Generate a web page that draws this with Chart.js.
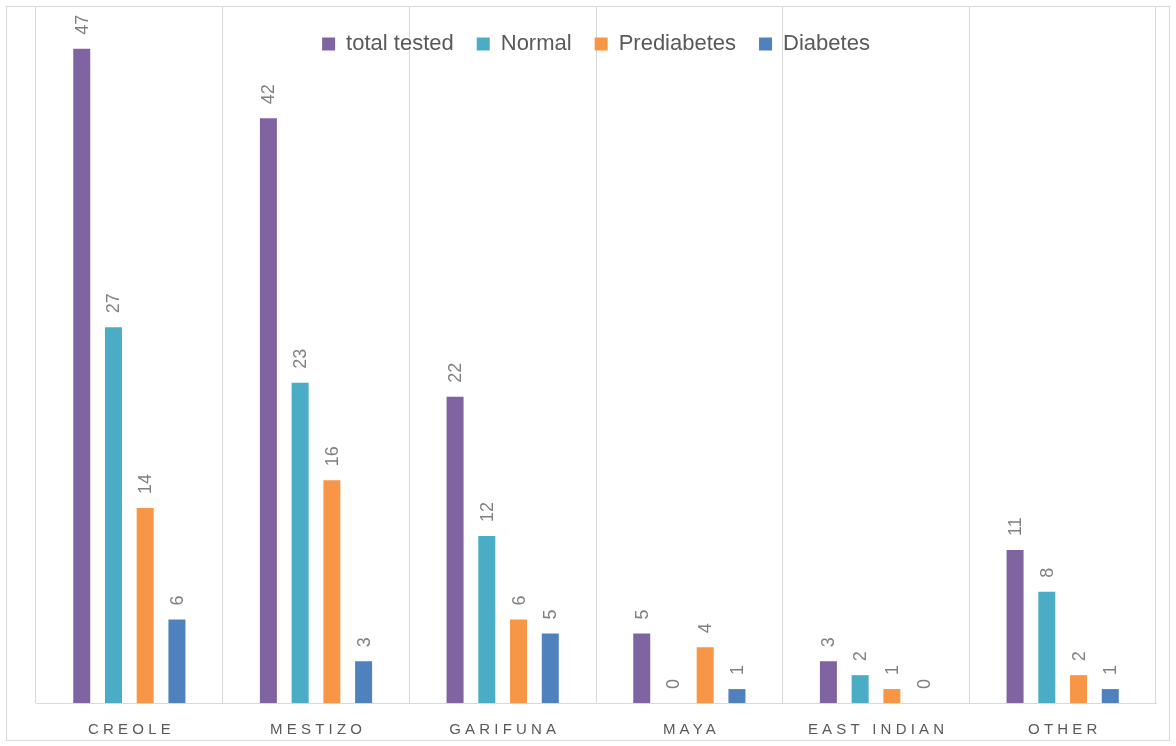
<!DOCTYPE html>
<html>
<head>
<meta charset="utf-8">
<script src="https://cdn.jsdelivr.net/npm/chart.js@4.4.1/dist/chart.umd.min.js"></script>
<style>
  html, body { margin: 0; padding: 0; background: #fff; }
  #wrap { width: 1176px; height: 746px; }
</style>
</head>
<body>
<div id="wrap"><canvas id="chart" width="1176" height="746"></canvas></div>
<script>
const categories = ['CREOLE', 'MESTIZO', 'GARIFUNA', 'MAYA', 'EAST INDIAN', 'OTHER'];
const totalTested = [47, 42, 22, 5, 3, 11];
const normal = [27, 23, 12, 0, 2, 8];
const prediabetes = [14, 16, 6, 4, 1, 2];
const diabetes = [6, 3, 5, 1, 0, 1];

const FONT = '"Liberation Sans", Arial, sans-serif';

// outer frame round the whole chart
const framePlugin = {
    id: 'frame',
    beforeDraw(chart) {
        const ctx = chart.ctx;
        ctx.save();
        ctx.fillStyle = '#ffffff';
        ctx.fillRect(0, 0, chart.width, chart.height);
        ctx.strokeStyle = '#d9d9d9';
        ctx.lineWidth = 1;
        ctx.strokeRect(6.5, 6.5, 1163, 734);
        ctx.restore();
    }
};

// legend sits on top of the plot, so it must not take layout room
const legendOverlay = {
    id: 'legendOverlay',
    beforeLayout(chart) {
        const lg = chart.legend;
        if (lg && !lg._overlay) {
            const fit = lg.fit.bind(lg);
            lg.fit = function () {
                fit();
                this._realHeight = this.height;
                this.height = 0;
            };
            lg._overlay = true;
        }
    },
    afterLayout(chart) {
        const lg = chart.legend;
        if (lg) {
            lg.top = 10;
            lg.bottom = lg.top + (lg._realHeight || 0);
        }
    }
};

// values above bars, turned to read bottom-to-top
const valueLabels = {
    id: 'valueLabels',
    afterDatasetsDraw(chart) {
        const ctx = chart.ctx;
        ctx.save();
        ctx.font = '18px ' + FONT;
        ctx.fillStyle = '#808080';
        ctx.textAlign = 'left';
        ctx.textBaseline = 'middle';
        chart.data.datasets.forEach((ds, i) => {
            const meta = chart.getDatasetMeta(i);
            meta.data.forEach((bar, j) => {
                ctx.save();
                ctx.translate(bar.x + 1, bar.y - 14);
                ctx.rotate(-Math.PI / 2);
                ctx.fillText(String(ds.data[j]), 0, 0);
                ctx.restore();
            });
        });
        ctx.restore();
    }
};

// spaced-out category names under the axis
const categoryLabels = {
    id: 'categoryLabels',
    afterDraw(chart) {
        const ctx = chart.ctx;
        const xScale = chart.scales.x;
        const sp = 4.2;
        ctx.save();
        ctx.font = '15px ' + FONT;
        ctx.fillStyle = '#595959';
        ctx.textBaseline = 'middle';
        ctx.textAlign = 'left';
        ctx.letterSpacing = sp + 'px';
        categories.forEach((name, i) => {
            const w = ctx.measureText(name).width - sp;
            const x = xScale.getPixelForValue(i);
            ctx.fillText(name, x - w / 2, 730);
        });
        ctx.restore();
    }
};

new Chart(document.getElementById('chart').getContext('2d'), {
    type: 'bar',
    data: {
        labels: categories,
        datasets: [
            { label: 'total tested', data: totalTested, backgroundColor: '#8064A2' },
            { label: 'Normal', data: normal, backgroundColor: '#4BACC6' },
            { label: 'Prediabetes', data: prediabetes, backgroundColor: '#F79646' },
            { label: 'Diabetes', data: diabetes, backgroundColor: '#4F81BD' }
        ]
    },
    options: {
        responsive: false,
        animation: false,
        layout: { padding: { left: 36, right: 20, top: 7, bottom: 43 } },
        datasets: {
            bar: { categoryPercentage: 0.68, barPercentage: 0.536 }
        },
        scales: {
            x: {
                grid: { display: true, color: '#d9d9d9', lineWidth: 1, offset: true, drawTicks: false },
                border: { display: true, color: '#d9d9d9', width: 1 },
                ticks: { display: false }
            },
            y: {
                display: false,
                min: 0,
                max: 50
            }
        },
        plugins: {
            legend: {
                position: 'top',
                align: 'center',
                labels: {
                    boxWidth: 13,
                    boxHeight: 13,
                    padding: 23,
                    color: '#595959',
                    font: { size: 22, family: FONT }
                }
            },
            tooltip: { enabled: false }
        }
    },
    plugins: [framePlugin, legendOverlay, valueLabels, categoryLabels]
});
</script>
</body>
</html>
